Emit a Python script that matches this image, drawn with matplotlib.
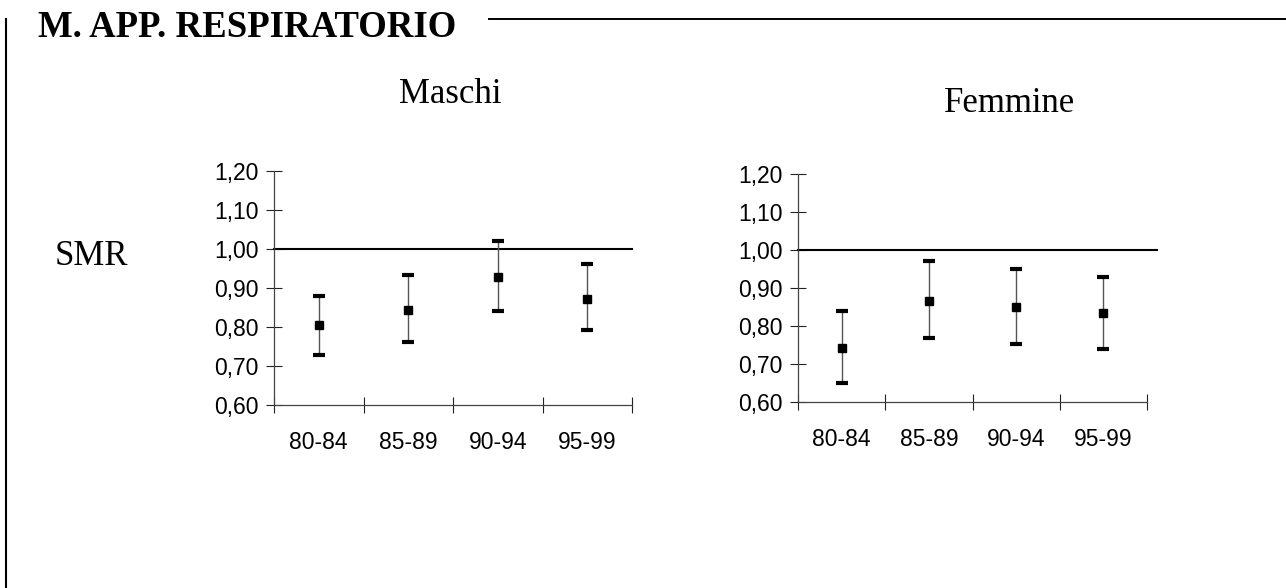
import matplotlib
matplotlib.use("Agg")
import matplotlib.pyplot as plt
from matplotlib.lines import Line2D

periods = ["80-84", "85-89", "90-94", "95-99"]

# SMR with 95% confidence limits
maschi_smr = [0.804, 0.844, 0.929, 0.873]
maschi_low = [0.729, 0.761, 0.840, 0.792]
maschi_high = [0.880, 0.933, 1.021, 0.961]

femmine_smr = [0.743, 0.867, 0.851, 0.835]
femmine_low = [0.650, 0.769, 0.753, 0.740]
femmine_high = [0.839, 0.971, 0.951, 0.929]

yticks = [0.60, 0.70, 0.80, 0.90, 1.00, 1.10, 1.20]

W, H = 1286, 588
fig = plt.figure(figsize=(W / 100, H / 100), dpi=100)

serif = "Liberation Serif"
sans = "Liberation Sans"


def px(x0, y0, x1, y1):
    # pixel box (top-left origin) -> figure fraction rect
    return [x0 / W, 1 - y1 / H, (x1 - x0) / W, (y1 - y0) / H]


def panel(rect, smr, low, high, line_end):
    ax = fig.add_axes(rect)
    n = len(periods)
    x = [i + 0.5 for i in range(n)]
    yerr = [[s - l for s, l in zip(smr, low)], [h - s for s, h in zip(smr, high)]]
    line, caps, bars = ax.errorbar(x, smr, yerr=yerr, fmt="s", color="black",
                                   markersize=6, ecolor="#555555", elinewidth=1.0,
                                   capsize=4, capthick=3, zorder=3)
    for c in caps:
        c.set_color("black")
        c.set_markeredgecolor("black")
    ax.plot([0, line_end], [1.0, 1.0], color="black", lw=1.5, clip_on=False, zorder=2)

    ax.set_xlim(0, n)
    ax.set_ylim(0.6, 1.2)
    ax.set_yticks(yticks)
    ax.set_yticklabels([f"{v:.2f}".replace(".", ",") for v in yticks],
                       fontfamily=sans, fontsize=16.5)
    ax.set_xticks(range(n + 1))
    ax.set_xticklabels([])
    ax.set_xticks(x, minor=True)
    ax.set_xticklabels(periods, minor=True, fontfamily=sans, fontsize=16.5)
    ax.tick_params(axis="x", which="minor", length=0, pad=19)
    ax.tick_params(axis="both", which="major", direction="inout", length=12,
                   width=0.8, color="#222222")
    ax.tick_params(axis="y", pad=5)
    for s in ["top", "right"]:
        ax.spines[s].set_visible(False)
    for s in ["left", "bottom"]:
        ax.spines[s].set_color("#444444")
        ax.spines[s].set_linewidth(0.9)
    ax.patch.set_alpha(0)
    return ax


panel(px(274, 171, 632, 405), maschi_smr, maschi_low, maschi_high, 4.0)
panel(px(798, 174, 1147, 402), femmine_smr, femmine_low, femmine_high, 4.11)

# header and frame lines
fig.text(38 / W, 1 - 37 / H, "M. APP. RESPIRATORIO", fontfamily=serif,
         fontweight="bold", fontsize=26.5, va="baseline", ha="left")
fig.add_artist(Line2D([489 / W, 1.0], [1 - 18.5 / H, 1 - 18.5 / H],
                      color="black", lw=1.4, transform=fig.transFigure))
fig.add_artist(Line2D([5.5 / W, 5.5 / W], [1 - 19 / H, 0],
                      color="black", lw=1.5, transform=fig.transFigure))

fig.text(450 / W, 1 - 103 / H, "Maschi", fontfamily=serif, fontsize=25,
         ha="center", va="baseline")
fig.text(1010 / W, 1 - 112 / H, "Femmine", fontfamily=serif, fontsize=25,
         ha="center", va="baseline")
fig.text(55 / W, 1 - 265 / H, "SMR", fontfamily=serif, fontsize=25,
         ha="left", va="baseline")

fig.savefig("out.png", dpi=100)
